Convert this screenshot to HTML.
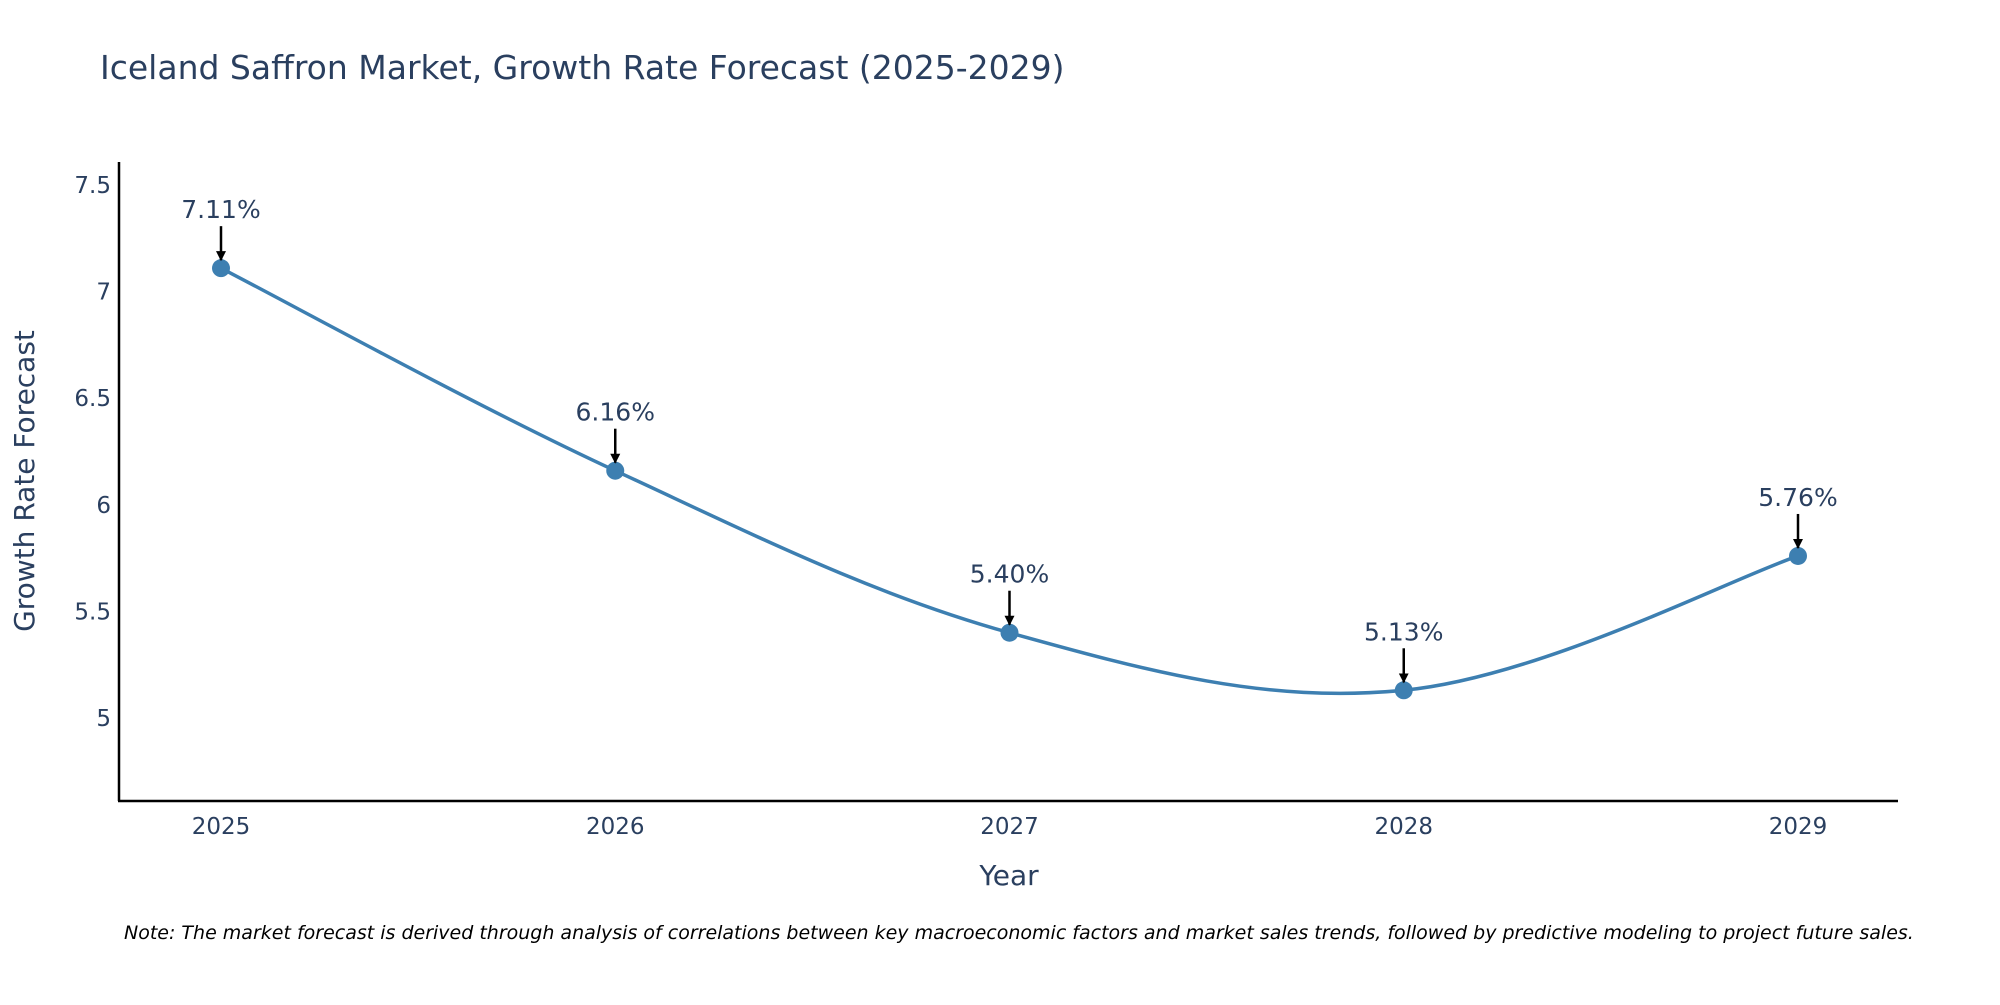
<!DOCTYPE html>
<html><head><meta charset="utf-8"><style>
body{margin:0;background:#fff;}
svg text{font-family:"DejaVu Sans","Liberation Sans",sans-serif;fill:#2a3f5f;}
</style></head><body>
<svg id="chart" width="2000" height="1000" viewBox="0 0 2000 1000">
<defs><marker id="ah" viewBox="0 0 10 10" refX="9" refY="5" markerWidth="4" markerHeight="4.5" orient="auto"><path d="M0,0L10,5L0,10z" fill="#000"/></marker></defs>
<text x="100" y="79" font-size="33">Iceland Saffron Market, Growth Rate Forecast (2025-2029)</text>
<g id="yticks"></g><g id="xticks"></g>
<line x1="119" y1="162" x2="119" y2="801" stroke="#000" stroke-width="2.5"/>
<line x1="118" y1="801" x2="1898" y2="801" stroke="#000" stroke-width="2.5"/>
<text transform="translate(34,481) rotate(-90)" text-anchor="middle" font-size="28">Growth Rate Forecast</text>
<text x="1009" y="885" text-anchor="middle" font-size="28">Year</text>
<g id="series"></g>
<text x="124" y="939" font-size="19" font-style="italic" style="fill:#000">Note: The market forecast is derived through analysis of correlations between key macroeconomic factors and market sales trends, followed by predictive modeling to project future sales.</text>
</svg>
<script>
const years=[2025,2026,2027,2028,2029];
const values=[7.11,6.16,5.40,5.13,5.76];
const labels=["7.11%","6.16%","5.40%","5.13%","5.76%"];
const yTicks=[5,5.5,6,6.5,7,7.5];
const yTickLabels=["5","5.5","6","6.5","7","7.5"];
const NS="http://www.w3.org/2000/svg";
const xS=v=>221+(v-2025)*394.25;
const yS=v=>718-(v-5)*213.2;
function mk(t,a,p){const e=document.createElementNS(NS,t);for(const k in a)e.setAttribute(k,a[k]);p.appendChild(e);return e;}
const yt=document.getElementById('yticks');
yTicks.forEach((v,i)=>{const t=mk('text',{x:111,y:yS(v)+8,'text-anchor':'end','font-size':23},yt);t.textContent=yTickLabels[i];

});
const xt=document.getElementById('xticks');
years.forEach(v=>{const t=mk('text',{x:xS(v),y:834,'text-anchor':'middle','font-size':23},xt);t.textContent=v;

});
const g=document.getElementById('series');
const P=years.map((y,i)=>[xS(y),yS(values[i])]);
let d=`M${P[0][0]},${P[0][1]}`;const s=0.35;
for(let i=0;i<P.length-1;i++){const p0=P[Math.max(i-1,0)],p1=P[i],p2=P[i+1],p3=P[Math.min(i+2,P.length-1)];
const c1=[p1[0]+(p2[0]-p0[0])*s/2,p1[1]+(p2[1]-p0[1])*s/2];
const c2=[p2[0]-(p3[0]-p1[0])*s/2,p2[1]-(p3[1]-p1[1])*s/2];
d+=` C${c1[0]},${c1[1]} ${c2[0]},${c2[1]} ${p2[0]},${p2[1]}`;}
const line=mk('path',{d:d,fill:'none',stroke:'#3d7fb1','stroke-width':3.5},g);


P.forEach((p,i)=>{const c=mk('circle',{cx:p[0],cy:p[1],r:9,fill:'#3d7fb1'},g);


const a=mk('line',{x1:p[0],y1:p[1]-42,x2:p[0],y2:p[1]-8,stroke:'#000','stroke-width':2.5,'marker-end':'url(#ah)'},g);


const t=mk('text',{x:p[0],y:p[1]-50,'text-anchor':'middle','font-size':25},g);t.textContent=labels[i];

});
</script>
</body></html>
